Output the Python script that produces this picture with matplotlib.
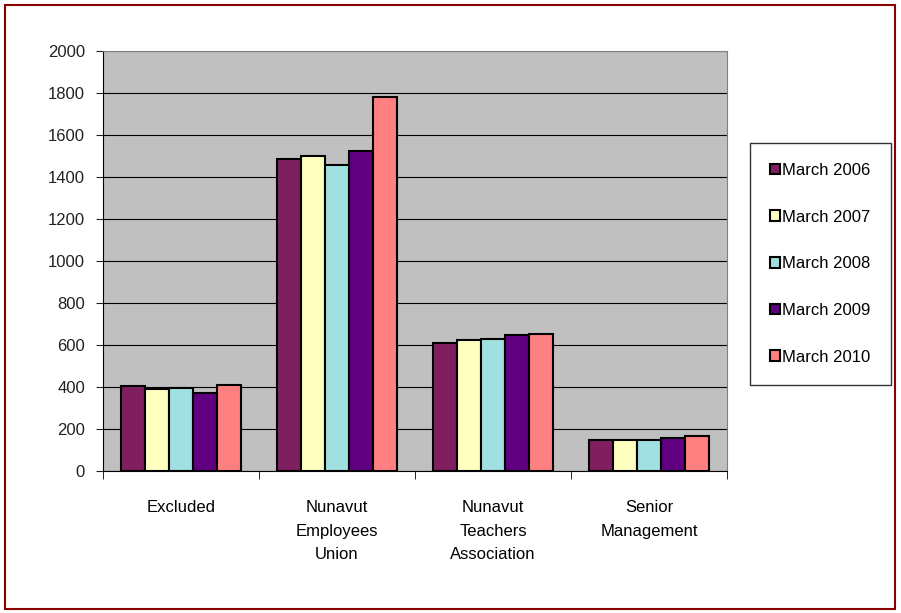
import matplotlib
matplotlib.use('Agg')
from matplotlib import pyplot as plt
from matplotlib.patches import Rectangle
import numpy as np

plt.rcParams['font.family'] = ['Liberation Sans', 'DejaVu Sans']

categories = ['Excluded', 'Nunavut\nEmployees\nUnion', 'Nunavut\nTeachers\nAssociation', 'Senior\nManagement']
series_names = ['March 2006', 'March 2007', 'March 2008', 'March 2009', 'March 2010']
march_2006 = [406, 1484, 608, 148]
march_2007 = [389, 1500, 622, 148]
march_2008 = [394, 1457, 629, 148]
march_2009 = [370, 1524, 648, 159]
march_2010 = [411, 1782, 652, 167]
series_values = [march_2006, march_2007, march_2008, march_2009, march_2010]
colors = ['#801F5F', '#FFFFC0', '#A0E0E0', '#600080', '#FF8080']
y_ticks = [0, 200, 400, 600, 800, 1000, 1200, 1400, 1600, 1800, 2000]

W, H = 901, 613
fig = plt.figure(figsize=(W / 100, H / 100), dpi=100)

# border around the whole chart
fig.patches.append(Rectangle((5 / W, 4 / H), 890 / W, 604 / H, transform=fig.transFigure,
                             fill=False, edgecolor='#8B0000', linewidth=1.5))

ax = fig.add_axes([103 / W, 1 - 471 / H, 624 / W, 420 / H])
ax.set_facecolor('#C0C0C0')

x = np.arange(len(categories))
bw = 1 / 6.5
for i, vals in enumerate(series_values):
    ax.bar(x + (i - 2) * bw, vals, width=bw, color=colors[i], edgecolor='black',
           linewidth=1.5, label=series_names[i], zorder=3)

ax.set_xlim(-0.5, len(categories) - 0.5)
ax.set_ylim(0, 2000)
ax.set_yticks(y_ticks)
ax.tick_params(axis='y', labelsize=12, direction='out', length=5, pad=8, colors='#222222')
ax.set_xticks(x)
ax.set_xticklabels(categories, fontsize=12, linespacing=1.72)
ax.tick_params(axis='x', length=0, pad=21)
ax.set_xticks(np.arange(len(categories) + 1) - 0.5, minor=True)
ax.tick_params(axis='x', which='minor', direction='out', length=6)
ax.yaxis.grid(True, color='black', linewidth=0.8, zorder=0)
ax.set_axisbelow(True)
for s in ['top', 'right']:
    ax.spines[s].set_color('#808080')
for s in ['left', 'bottom']:
    ax.spines[s].set_color('black')

leg = fig.legend(loc='upper left', bbox_to_anchor=(750 / W, 1 - 143 / H), frameon=True,
                 fancybox=False, edgecolor='black', fontsize=12, handlelength=0.6,
                 handleheight=0.6, handletextpad=0.15, labelspacing=1.9, borderpad=1.2,
                 borderaxespad=0)
leg.get_frame().set_linewidth(1.0)

fig.savefig('out.png', dpi=100)
